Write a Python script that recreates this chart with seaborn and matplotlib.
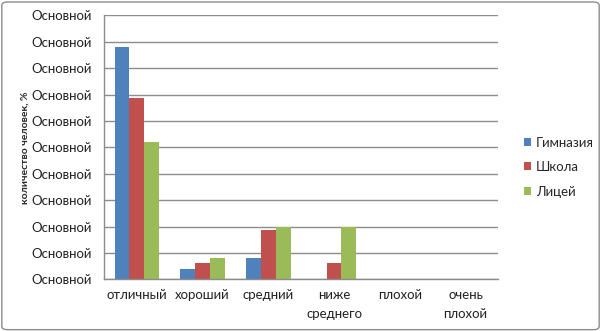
import pandas as pd
import numpy as np
import matplotlib.pyplot as plt
import seaborn as sns
from matplotlib.patches import FancyBboxPatch

# data (percent of people)
categories = ["отличный", "хороший", "средний", "ниже\nсреднего", "плохой", "очень\nплохой"]
groups = ["Гимназия", "Школа", "Лицей"]
gymnasium = [88, 4, 8, 0, 0, 0]
school = [68.75, 6.25, 18.75, 6.25, 0, 0]
lyceum = [52, 8, 20, 20, 0, 0]
ytick_values = [0, 10, 20, 30, 40, 50, 60, 70, 80, 90, 100]
ytick_labels = ["Основной"] * len(ytick_values)
colors = ["#4F81BD", "#C0504D", "#9BBB59"]


def main():
    df = pd.DataFrame({
        "category": categories * 3,
        "group": [g for g in groups for _ in categories],
        "value": gymnasium + school + lyceum,
    })

    sns.set_style("white")
    plt.rcParams["font.family"] = ["Lato", "DejaVu Sans"]

    fig = plt.figure(figsize=(6.01, 3.31), dpi=100)
    ax = fig.add_axes([104 / 601, 1 - 279.3 / 331, (498.3 - 104) / 601, (279.3 - 15.3) / 331])

    sns.barplot(data=df, x="category", y="value", hue="group", order=categories,
                hue_order=groups, palette=colors, width=0.68, gap=0, ax=ax,
                errorbar=None, saturation=1, legend=True, linewidth=0)

    ax.set_ylim(0, 100)
    ax.set_xlim(-0.5, len(categories) - 0.5)
    ax.set_yticks(ytick_values)
    ax.set_yticklabels(ytick_labels, fontsize=9.5, color="#222222")
    ax.yaxis.grid(True, color="#8c8c8c", linewidth=1)
    ax.set_axisbelow(True)

    # category ticks between groups
    ax.set_xticks(range(len(categories)))
    ax.set_xticklabels(categories, fontsize=9.5, color="#222222", linespacing=1.7)
    ax.set_xticks(np.arange(-0.5, len(categories)), minor=True)
    ax.tick_params(axis="x", which="major", length=0, pad=7)
    ax.tick_params(axis="x", which="minor", length=5, color="#8c8c8c", width=1)
    ax.tick_params(axis="y", length=5, color="#8c8c8c", width=1, pad=4)

    for side in ["top", "right"]:
        ax.spines[side].set_visible(False)
    for side in ["left", "bottom"]:
        ax.spines[side].set_color("#8c8c8c")
        ax.spines[side].set_linewidth(1)

    ax.set_xlabel("")
    ax.set_ylabel("количество человек, %", fontsize=7.5, fontweight="bold")
    ax.yaxis.set_label_coords(-0.188, 0.5)

    handles, labels = ax.get_legend_handles_labels()
    ax.legend(handles, labels, loc="center left", bbox_to_anchor=(1.035, 0.425),
              frameon=False, fontsize=9.5, handlelength=0.55, handleheight=0.55,
              handletextpad=0.35, labelspacing=0.95)

    # outer chart border
    fig.patches.append(FancyBboxPatch((0.003, 0.004), 0.994, 0.99,
                                      boxstyle="round,pad=0,rounding_size=0.01",
                                      transform=fig.transFigure, fill=False,
                                      edgecolor="#8c8c8c", linewidth=1))

    fig.savefig("out.png", dpi=100)


if __name__ == "__main__":
    main()
